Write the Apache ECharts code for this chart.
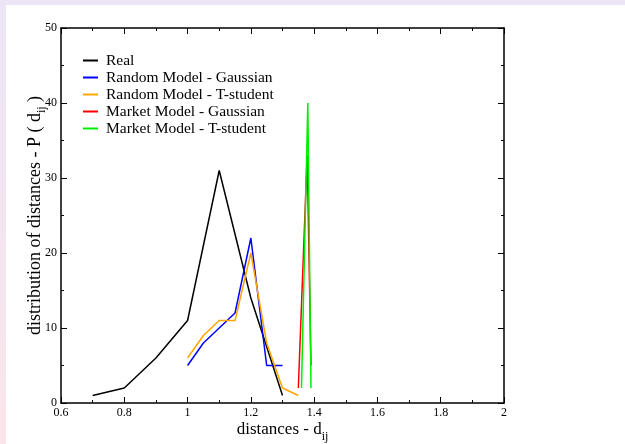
<!DOCTYPE html>
<html>
<head>
<meta charset="utf-8">
<script src="https://cdn.jsdelivr.net/npm/echarts@6/dist/echarts.min.js"></script>
<style>
  html, body { margin: 0; padding: 0; background: #fff; }
  #chart { width: 625px; height: 444px; }
</style>
</head>
<body>
<div id="chart"></div>
<script>
// data
const realX = [0.7, 0.8, 0.9, 1.0, 1.1, 1.2, 1.3];
const realY = [1, 2, 6, 11, 31, 14, 1];

const randGaussX = [1.0, 1.05, 1.1, 1.15, 1.2, 1.25, 1.3];
const randGaussY = [5, 8, 10, 12, 22, 5, 5];

const randStudX = [1.0, 1.05, 1.1, 1.15, 1.2, 1.25, 1.3, 1.35];
const randStudY = [6, 9, 11, 11, 20, 8, 2, 1];

const mktGaussX = [1.35, 1.378, 1.39];
const mktGaussY = [2, 33, 5];

const mktStudX = [1.36, 1.38, 1.39];
const mktStudY = [2, 40, 2];

const names = ['Real', 'Random Model - Gaussian', 'Random Model - T-student',
  'Market Model - Gaussian', 'Market Model - T-student'];
const colors = ['#000000', '#0000ff', '#ffa500', '#ff0000', '#00ee00'];

function pairs(xs, ys) {
  return xs.map((x, i) => [x, ys[i]]);
}

const font = '"Liberation Serif", "DejaVu Serif", serif';
const dom = document.getElementById('chart');
const chart = echarts.init(dom, null, { renderer: 'canvas' });

const seriesData = [
  pairs(realX, realY),
  pairs(randGaussX, randGaussY),
  pairs(randStudX, randStudY),
  pairs(mktGaussX, mktGaussY),
  pairs(mktStudX, mktStudY)
];

const axisCommon = {
  axisLine: { onZero: false, lineStyle: { color: '#000', width: 1.5 } },
  axisTick: { inside: true, length: 6, lineStyle: { color: '#000', width: 1 } },
  minorTick: { show: true, splitNumber: 2, length: 3, lineStyle: { color: '#000', width: 1 } },
  splitLine: { show: false },
  nameMoveOverlap: false
};

chart.setOption({
  animation: false,
  backgroundColor: '#fff',
  textStyle: { fontFamily: font },
  graphic: [
    { type: 'rect', shape: { x: 0, y: 0, width: 625, height: 5 }, style: { fill: '#ebe5f6' }, silent: true },
    {
      type: 'rect', shape: { x: 0, y: 0, width: 6, height: 444 }, silent: true,
      style: {
        fill: new echarts.graphic.LinearGradient(0, 0, 0, 1, [
          { offset: 0, color: '#ebe5f6' },
          { offset: 1, color: '#fbe5ea' }
        ])
      }
    }
  ],
  grid: { left: 61, right: 121, top: 28, bottom: 41, outerBoundsMode: 'none' },
  legend: {
    orient: 'vertical',
    left: 83,
    top: 52,
    padding: 0,
    itemWidth: 15,
    itemHeight: 2,
    itemGap: 0,
    icon: 'rect',
    data: names,
    textStyle: { fontFamily: font, fontSize: 15.5, color: '#000', lineHeight: 17, padding: [0, 0, 0, 3] }
  },
  xAxis: [
    Object.assign({}, axisCommon, {
      type: 'value', min: 0.6, max: 2, interval: 0.2,
      axisLabel: {
        color: '#000', fontSize: 12, fontFamily: font, margin: 4,
        formatter: v => String(+v.toFixed(1))
      },
      name: 'distances - d{sub|ij}',
      nameLocation: 'middle',
      nameGap: 14,
      nameTextStyle: {
        fontSize: 17, color: '#000', fontFamily: font,
        rich: { sub: { fontSize: 12, fontFamily: font, color: '#000', padding: [14, 0, 0, 0] } }
      }
    }),
    Object.assign({}, axisCommon, {
      type: 'value', min: 0.6, max: 2, interval: 0.2, position: 'top',
      axisLabel: { show: false }
    })
  ],
  yAxis: [
    Object.assign({}, axisCommon, {
      type: 'value', min: 0, max: 50, interval: 10,
      axisLabel: { color: '#000', fontSize: 12, fontFamily: font, margin: 4 },
      name: 'distribution of distances - P ( d{sub|ij} )',
      nameLocation: 'middle',
      nameGap: 13,
      nameTextStyle: {
        fontSize: 18, color: '#000', fontFamily: font,
        rich: { sub: { fontSize: 12, fontFamily: font, color: '#000', padding: [14, 0, 0, 0] } }
      }
    }),
    Object.assign({}, axisCommon, {
      type: 'value', min: 0, max: 50, interval: 10, position: 'right',
      axisLabel: { show: false }
    })
  ],
  series: seriesData.map((d, i) => ({
    name: names[i],
    type: 'line',
    data: d,
    symbol: 'none',
    color: colors[i],
    lineStyle: { width: 1.5, color: colors[i] },
    z: 2 + i
  }))
});
</script>
</body>
</html>
